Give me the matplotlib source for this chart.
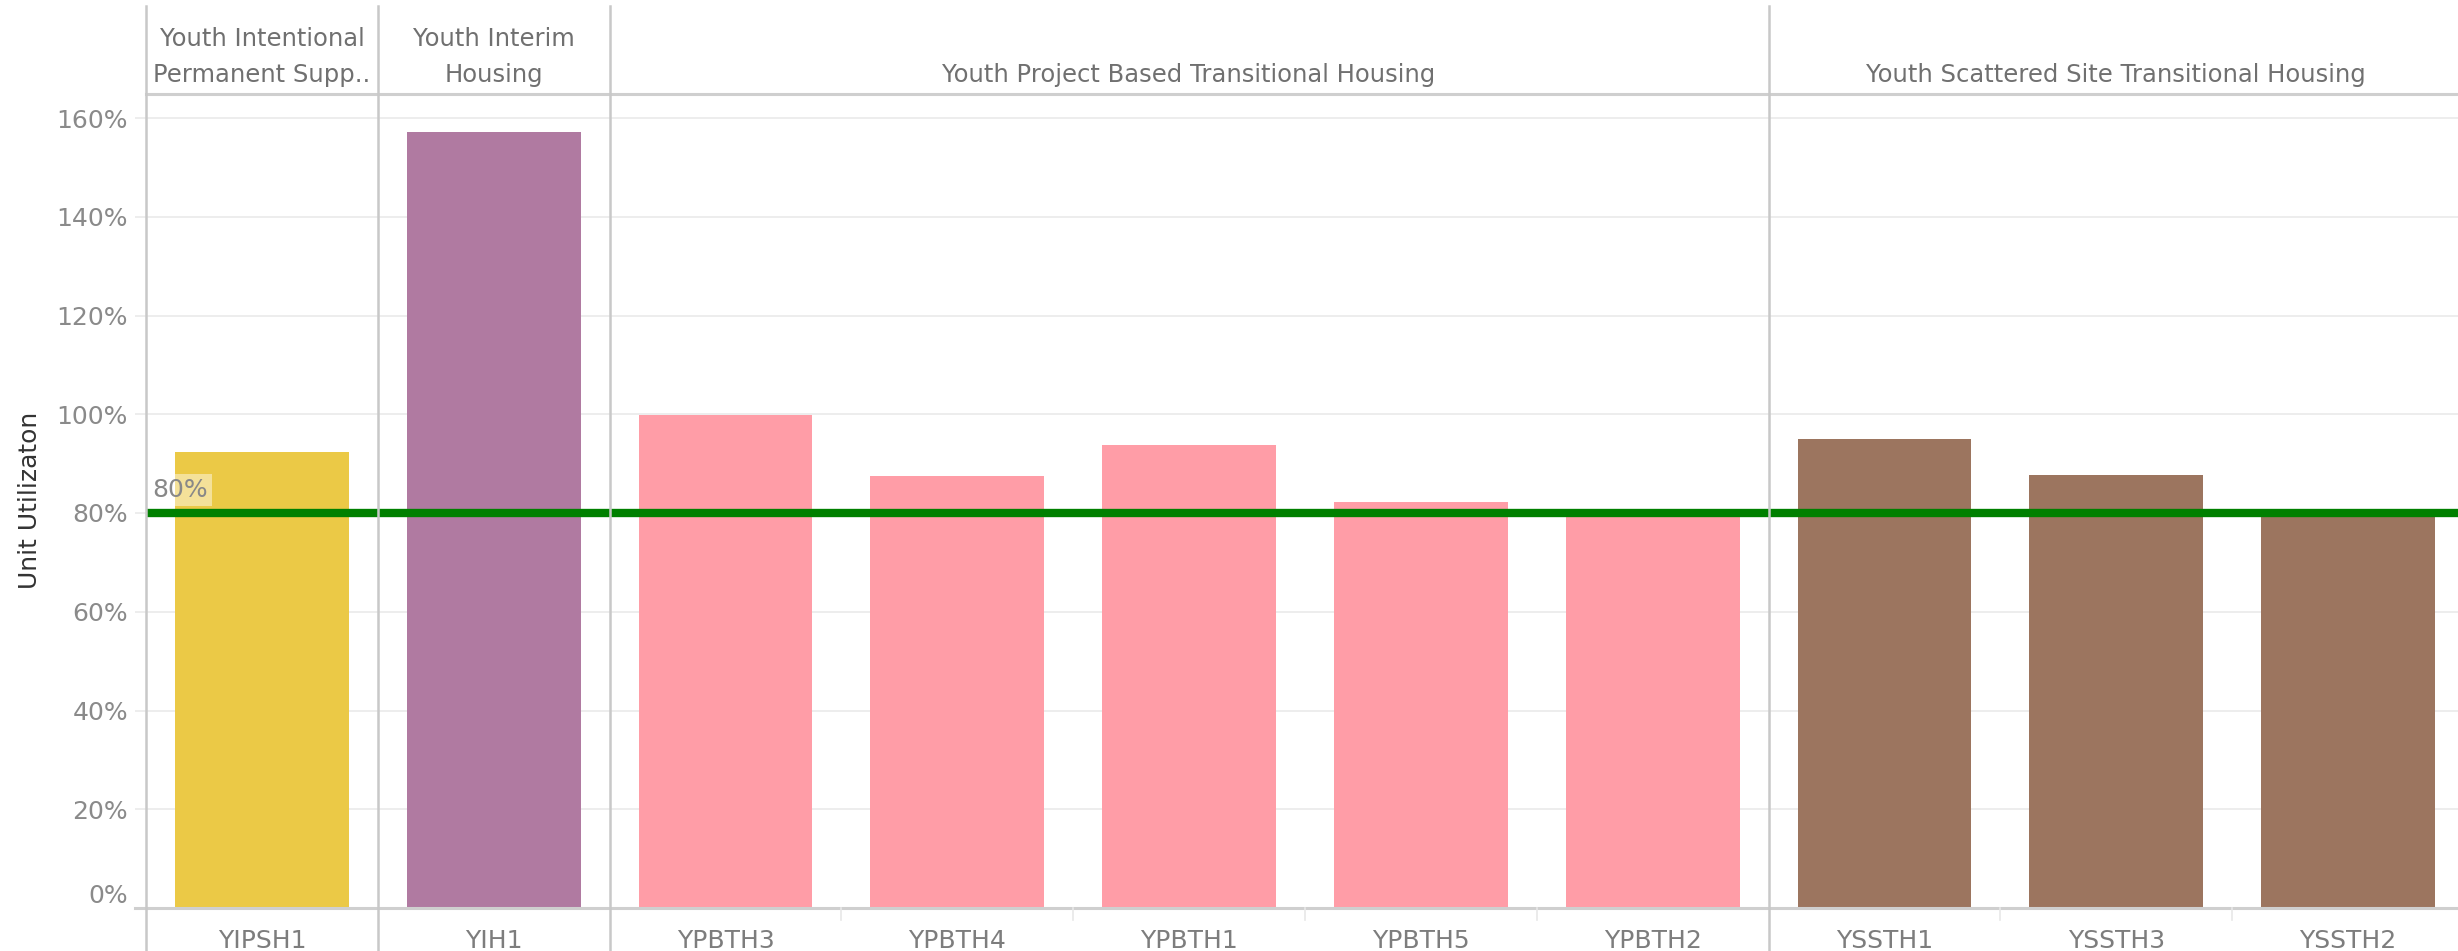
import numpy as np
import matplotlib
matplotlib.use("Agg")
import matplotlib.pyplot as plt
from matplotlib.lines import Line2D
from matplotlib.transforms import blended_transform_factory

# data
programs = ["YIPSH1", "YIH1", "YPBTH3", "YPBTH4", "YPBTH1", "YPBTH5", "YPBTH2",
            "YSSTH1", "YSSTH3", "YSSTH2"]
utilization = [92.3, 157.1, 99.9, 87.4, 93.8, 82.3, 79.2, 95.0, 87.6, 79.2]
group_of = [0, 1, 2, 2, 2, 2, 2, 3, 3, 3]
group_names = [["Youth Intentional", "Permanent Supp.."],
               ["Youth Interim", "Housing"],
               ["Youth Project Based Transitional Housing"],
               ["Youth Scattered Site Transitional Housing"]]
group_colors = ["#EBC946", "#B07AA1", "#FF9DA7", "#9C755F"]
target = 80
yticks = [0, 20, 40, 60, 80, 100, 120, 140, 160]

plt.rcParams['font.family'] = ['DejaVu Sans']

W, H = 2458, 951
fig = plt.figure(figsize=(W / 100, H / 100), dpi=100)
fig.patch.set_facecolor("white")

# plot area in pixels
left_px, top_px, bot_px = 146, 94, 908
ax = fig.add_axes([left_px / W, (H - bot_px) / H, (W - left_px) / W, (bot_px - top_px) / H])

slot = 231.8
x = np.arange(len(programs))
colors = [group_colors[g] for g in group_of]
ax.bar(x, utilization, width=0.75, color=colors, zorder=2)

ax.set_xlim(-0.5, -0.5 + (W - left_px) / slot)
ax.set_ylim(0, (bot_px - top_px) / 4.9375)

# grid / ticks
ax.set_yticks(yticks)
ax.set_yticklabels([f"{v}%" for v in yticks])
ax.yaxis.grid(True, color="#ececec", lw=1.3, zorder=0)
ax.tick_params(axis="y", length=8, color="#ececec", width=1.3, pad=5,
               labelsize=18, labelcolor="#8a8a8a")
ax.yaxis.get_major_ticks()[0].label1.set_verticalalignment("bottom")
ax.set_xticks(x)
ax.set_xticklabels(programs)
ax.tick_params(axis="x", length=0, pad=15, labelsize=18, labelcolor="#7d7d7d")

for s in ["left", "right"]:
    ax.spines[s].set_visible(False)
ax.spines["top"].set_color("#cfcfcf")
ax.spines["top"].set_linewidth(2.2)
ax.spines["bottom"].set_color("#cfcfcf")
ax.spines["bottom"].set_linewidth(2.2)

# reference line
ax.axhline(target, color="#008000", lw=6, zorder=3)
ax.text(-0.5 + 6 / slot, target + 4.6, f"{target}%", fontsize=18, color="#888888",
        va="center", ha="left", zorder=4,
        bbox=dict(boxstyle="square,pad=0.16", fc="white", ec="none", alpha=0.45))

# separators between program types and panel edges
bt = blended_transform_factory(ax.transData, fig.transFigure)
seps = [-0.5] + [i - 0.5 for i in range(1, len(programs)) if group_of[i] != group_of[i - 1]]
for sx in seps:
    fig.add_artist(Line2D([sx, sx], [0, 1 - 6 / H], transform=bt, color="#c8c8c8", lw=1.8, zorder=5))
# light dividers in the label row
for i in range(1, len(programs)):
    if group_of[i] == group_of[i - 1]:
        fig.add_artist(Line2D([i - 0.5, i - 0.5], [(H - 920) / H, (H - bot_px) / H],
                              transform=bt, color="#e8e8e8", lw=1.2))
# gridline stubs left of axis at baseline
fig.add_artist(Line2D([(left_px - 11) / W, left_px / W], [(H - bot_px) / H] * 2,
                      transform=fig.transFigure, color="#cfcfcf", lw=2.2))

# header labels
for g, names in enumerate(group_names):
    members = [i for i in range(len(programs)) if group_of[i] == g]
    cx = (members[0] + members[-1]) / 2
    ys = [75] if len(names) == 1 else [39, 75]
    for name, yp in zip(names, ys):
        fig.text(cx, 1 - yp / H, name, transform=bt, ha="center", va="center",
                 fontsize=17.5, color="#707070")

fig.text(30 / W, 1 - 500 / H, "Unit Utilizaton", rotation=90, ha="center", va="center",
         fontsize=18, color="#333333")

fig.savefig("out.png", dpi=100)
